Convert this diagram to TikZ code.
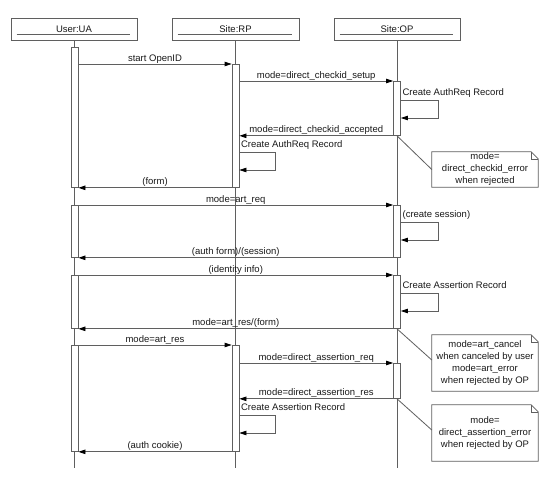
\documentclass[tikz,border=0pt]{standalone}
\usepackage{fontspec}
\setmainfont{Liberation Sans}
\usetikzlibrary{arrows.meta}
\definecolor{ln}{RGB}{95,95,95}
\definecolor{tx}{RGB}{25,25,25}

% self call: bar node, offset below bar top, loop width, label
\newcommand\selfmsg[4]{%
  \draw[msg] ([yshift=-#2]#1.north east) -- ++(#3,0) -- ++(0,18)
    -- ([yshift=-#2-18pt]#1.north east);
  \node[anchor=base west, inner sep=0pt]
    at ([xshift=1.5pt,yshift=-#2+5pt]#1.north east) {#4};}

\begin{document}
\begin{tikzpicture}[x=1pt,y=-1pt,
  every node/.style={font=\fontsize{9.5}{12}\selectfont, text=tx},
  head/.style={draw=ln, line width=0.8pt, minimum height=22pt, inner sep=0pt},
  life/.style={draw=ln, line width=0.8pt},
  act/.style={draw=ln, fill=white, line width=0.8pt, minimum width=7pt,
    inner sep=0pt, anchor=north},
  msg/.style={draw=ln, line width=0.8pt, -{Triangle[length=7pt,width=4.5pt,fill=black,color=black]}},
  lbl/.style={midway, anchor=base, yshift=3pt, inner sep=0pt},
  note/.style={minimum width=106pt, inner sep=0pt, align=center},
  link/.style={draw=ln, line width=0.8pt}]

\useasboundingbox[fill=white] (0,0) rectangle (559,480);

% lifeline heads
\node[head, minimum width=126pt] (ua) at (74,29) {};
\node[head, minimum width=127pt] (rp) at (235.5,29) {};
\node[head, minimum width=126pt] (op) at (397,29) {};
\foreach \h/\t in {ua/User:UA, rp/Site:RP, op/Site:OP}{
  \node[anchor=base, inner sep=0pt] (\h t) at ([yshift=-3.5pt]\h.center) {\t};
  \draw[life] ([xshift=6pt,yshift=-5pt]\h.west) -- ([xshift=-7pt,yshift=-5pt]\h.east);
}

% lifelines
\coordinate (uaend) at (74.5,468);
\coordinate (rpend) at (235.5,468);
\coordinate (opend) at (397,468);
\draw[life] (ua.south -| uaend) -- (uaend);
\draw[life] (rp.south -| rpend) -- (rpend);
\draw[life] (op.south -| opend) -- (opend);

% activation bars
\node[act, minimum height=140pt] (ua1) at (74.5,47) {};
\node[act, minimum height=52pt]  (ua2) at (74.5,205) {};
\node[act, minimum height=53pt]  (ua3) at (74.5,275) {};
\node[act, minimum height=106pt] (ua4) at (74.5,345) {};
\node[act, minimum height=123pt] (rp1) at (235.5,64) {};
\node[act, minimum height=106pt] (rp2) at (235.5,345) {};
\node[act, minimum height=54pt]  (op1) at (397,81) {};
\node[act, minimum height=52pt]  (op2) at (397,205) {};
\node[act, minimum height=53pt]  (op3) at (397,275) {};
\node[act, minimum height=35pt]  (op4) at (397,363) {};

% messages
\draw[msg] (rp1.north west -| ua1.east) -- (rp1.north west) node[lbl] {start OpenID};
\draw[msg] (op1.north west -| rp1.east) -- (op1.north west) node[lbl] {mode=direct\_checkid\_setup};
\selfmsg{op1}{19pt}{37}{Create AuthReq Record}
\draw[msg] (op1.south west) -- (op1.south west -| rp1.east) node[lbl] {mode=direct\_checkid\_accepted};
\selfmsg{rp1}{88pt}{36}{Create AuthReq Record}
\draw[msg] (rp1.south west) -- (rp1.south west -| ua1.east) node[lbl] {(form)};

\draw[msg] (ua2.north east) -- (op2.north west) node[lbl] {mode=art\_req};
\selfmsg{op2}{17pt}{37}{(create session)}
\draw[msg] (op2.south west) -- (ua2.south east) node[lbl] {(auth form)/(session)};

\draw[msg] (ua3.north east) -- (op3.north west) node[lbl] {(identity info)};
\selfmsg{op3}{18pt}{37}{Create Assertion Record}
\draw[msg] (op3.south west) -- (ua3.south east) node[lbl] {mode=art\_res/(form)};

\draw[msg] (ua4.north east) -- (rp2.north west) node[lbl] {mode=art\_res};
\draw[msg] (op4.north west -| rp2.east) -- (op4.north west) node[lbl] {mode=direct\_assertion\_req};
\draw[msg] (op4.south west) -- (op4.south west -| rp2.east) node[lbl] {mode=direct\_assertion\_res};
\selfmsg{rp2}{70pt}{36}{Create Assertion Record}
\draw[msg] (rp2.south west) -- (ua4.south east) node[lbl] {(auth cookie)};

% notes
\node[note, minimum height=35pt] (n1) at (485,169.5)
  {mode=\\direct\_checkid\_error\\when rejected};
\node[note, minimum height=56pt] (n2) at (485,363)
  {mode=art\_cancel\\when canceled by user\\mode=art\_error\\when rejected by OP};
\node[note, minimum height=56pt] (n3) at (485,433)
  {mode=\\direct\_assertion\_error\\when rejected by OP};
\foreach \n in {n1,n2,n3}{
  \draw[link] (\n.north west) -- ([xshift=-7pt]\n.north east)
    -- ([yshift=-7pt]\n.north east) -- (\n.south east) -- (\n.south west) -- cycle;
  \draw[link, line width=0.5pt] ([xshift=-7pt]\n.north east)
    -- ([xshift=-7pt,yshift=-7pt]\n.north east) -- ([yshift=-7pt]\n.north east);
}
\draw[link] (op1.south) -- (n1.west);
\draw[link] (op3.south) -- ([yshift=3pt]n2.west);
\draw[link] (op4.south) -- ([yshift=3pt]n3.west);

\end{tikzpicture}
\end{document}
